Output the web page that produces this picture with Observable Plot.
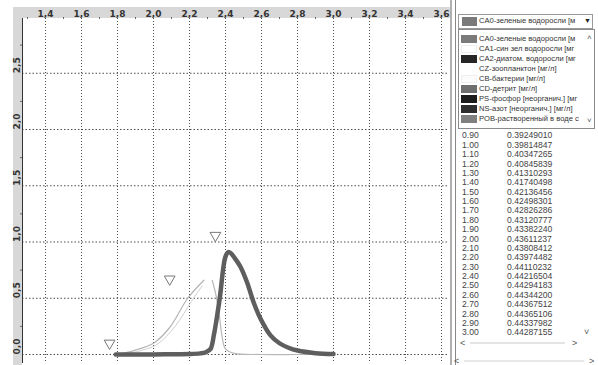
<!DOCTYPE html>
<html><head><meta charset="utf-8">
<script src="https://cdn.jsdelivr.net/npm/d3@7"></script>
<script src="https://cdn.jsdelivr.net/npm/@observablehq/plot@0.6"></script>
<style>
html,body{margin:0;padding:0;background:#fff;}
#wrap{position:relative;width:598px;height:365px;overflow:hidden;font-family:"Liberation Sans",Arial,sans-serif;}
#bandTop{position:absolute;left:13px;top:7px;width:437px;height:11px;background:#d8d8d8;}
#bandLeft{position:absolute;left:13px;top:7px;width:9px;height:358px;background:#d8d8d8;}
#chart{position:absolute;left:0;top:0;}
#panel{position:absolute;left:450px;top:0;width:148px;height:365px;background:#fff;}
#sep1{position:absolute;left:0;top:0;width:2px;height:365px;background:#b0b0b0;}
#sep2{position:absolute;left:5px;top:0;width:1px;height:365px;background:#888;}
.abs{position:absolute;}
#combo{left:8px;top:14px;width:133px;height:13px;border:1px solid #999;background:#fff;}
#list{left:8px;top:29px;width:135px;height:98px;border:1px solid #8a8a8a;background:#fff;z-index:3;overflow:hidden;}
.item{position:absolute;left:0;height:10px;line-height:10px;font-size:7.6px;color:#333;white-space:nowrap;}
.sw{position:absolute;left:2px;top:1px;width:16px;height:8px;}
.txt{position:absolute;left:20px;top:0;width:106px;overflow:visible;}
#table{left:12px;top:118px;width:125px;height:222px;overflow:hidden;z-index:1;}
.row{position:absolute;left:0;height:10px;line-height:10px;font-size:8.6px;color:#444;white-space:nowrap;}
.c2{position:absolute;left:45px;}
.arr{position:absolute;font-size:9px;color:#555;line-height:10px;}
</style>
</head><body>
<div id="wrap">
  <div id="bandTop"></div>
  <div id="bandLeft"></div>
  <div id="chart"></div>
  <div id="panel">
    <div id="sep1"></div><div id="sep2"></div>
    <div id="combo" class="abs"></div>
    <div id="list" class="abs"></div>
    <div id="table" class="abs"></div>
  </div>
</div>
<script>
// ---- axis ticks ----
const xTicks = [1.4, 1.6, 1.8, 2.0, 2.2, 2.4, 2.6, 2.8, 3.0, 3.2, 3.4, 3.6];
const xMinor = [1.3, 1.5, 1.7, 1.9, 2.1, 2.3, 2.5, 2.7, 2.9, 3.1, 3.3, 3.5];
const yTicks = [0, 0.5, 1.0, 1.5, 2.0, 2.5];
const yMinor = [0.25, 0.75, 1.25, 1.75, 2.25, 2.75];
const xDomain = [1.2722, 3.6444];
const yDomain = [-0.08, 2.9867];

// ---- thick dark curve ----
const thickX = [1.79, 1.90, 2.00, 2.10, 2.20, 2.26, 2.29, 2.317, 2.335, 2.354, 2.372, 2.387, 2.40, 2.415, 2.43, 2.45, 2.483, 2.52, 2.557, 2.594, 2.65, 2.70, 2.75, 2.80, 2.90, 3.00];
const thickY = [0, 0, 0, 0.002, 0.004, 0.01, 0.02, 0.05, 0.17, 0.35, 0.55, 0.76, 0.87, 0.91, 0.90, 0.86, 0.78, 0.64, 0.46, 0.32, 0.17, 0.10, 0.06, 0.035, 0.012, 0.004];

// ---- light curves ----
const riseAX = [1.80, 1.89, 2.00, 2.09, 2.19, 2.28];
const riseAY = [0, 0.035, 0.10, 0.24, 0.50, 0.66];
const riseBX = [1.82, 1.92, 2.02, 2.12, 2.21, 2.27];
const riseBY = [0, 0.03, 0.09, 0.25, 0.47, 0.61];
const fallX = [2.326, 2.344, 2.363, 2.38, 2.40, 2.45, 2.60, 2.80, 3.00];
const fallY = [0.66, 0.55, 0.38, 0.17, 0.05, 0.01, 0, 0, 0];

// ---- triangle markers ----
const triX = [1.756, 2.09, 2.344];
const triY = [0.10, 0.67, 1.058];

// ---- side panel ----
const listNames = ["CA0-зеленые водоросли [м", "CA1-син зел водоросли [мг", "CA2-диатом. водоросли [мг", "CZ-зоопланктон [мг/л]", "CB-бактерии [мг/л]", "CD-детрит [мг/л]", "PS-фосфор [неорганич.] [мг", "NS-азот [неорганич.] [мг/л]", "POB-растворенный в воде с"];
const listColors = ["#7a7a7a", "#ffffff", "#262626", "none", "#fbfbfb", "#6e6e6e", "#1c1c1c", "#2e2e2e", "#808080"];
const tableT = ["0.80","0.90","1.00","1.10","1.20","1.30","1.40","1.50","1.60","1.70","1.80","1.90","2.00","2.10","2.20","2.30","2.40","2.50","2.60","2.70","2.80","2.90","3.00"];
const tableV = ["0.38856330","0.39249010","0.39814847","0.40347265","0.40845839","0.41310293","0.41740498","0.42136456","0.42498301","0.42826286","0.43120777","0.43382240","0.43611237","0.43808412","0.43974482","0.44110232","0.44216504","0.44294183","0.44344200","0.44367512","0.44365106","0.44337982","0.44287155"];

const fmt = d => d.toFixed(1).replace(".", ",");
const zip = (xs, ys) => xs.map((x, i) => ({x, y: ys[i]}));

const chart = Plot.plot({
  width: 598, height: 365,
  marginLeft: 22, marginRight: 149, marginTop: 18, marginBottom: 2,
  x: {domain: xDomain, label: null},
  y: {domain: yDomain, label: null},
  style: {background: "transparent", fontFamily: "DejaVu Sans, sans-serif", overflow: "visible"},
  marks: [
    Plot.gridX(xTicks, {stroke: "#3a3a3a", strokeOpacity: 0.9, strokeDasharray: "1,2"}),
    Plot.gridY(yTicks, {stroke: "#3a3a3a", strokeOpacity: 0.9, strokeDasharray: "1.5,2"}),
    Plot.ruleX([xDomain[0]], {stroke: "#333", strokeWidth: 1}),
    Plot.axisX(xTicks, {anchor: "top", tickSize: 0, tickPadding: 2, tickFormat: fmt, label: null, fontSize: 9, fontWeight: "bold", fill: "#333"}),
    Plot.axisX(xMinor, {anchor: "top", tickSize: 2, tickFormat: () => "", label: null, stroke: "#666"}),
    Plot.axisY(yMinor, {anchor: "left", tickSize: 2, tickFormat: () => "", label: null, stroke: "#666"}),
    Plot.text(yTicks, {y: d => d, frameAnchor: "left", dx: -5, rotate: -90, text: fmt, fontSize: 9, fontWeight: "bold", fill: "#333"}),
    Plot.line(zip(riseBX, riseBY), {x: "x", y: "y", stroke: "#d0d0d0", strokeWidth: 1, curve: "catmull-rom"}),
    Plot.line(zip(riseAX, riseAY), {x: "x", y: "y", stroke: "#b4b4b4", strokeWidth: 1.2, curve: "catmull-rom"}),
    Plot.line(zip(fallX, fallY), {x: "x", y: "y", stroke: "#b8b8b8", strokeWidth: 1.2, curve: "catmull-rom"}),
    Plot.line(zip(thickX, thickY), {x: "x", y: "y", stroke: "#5e5e5e", strokeWidth: 4.5, curve: "catmull-rom", strokeLinecap: "round"}),
    Plot.dot(zip(triX, triY), {x: "x", y: "y", symbol: "triangle", rotate: 180, r: 4, stroke: "#777", strokeWidth: 1, fill: "white"})
  ]
});
document.getElementById("chart").appendChild(chart);

// combo box
const combo = document.getElementById("combo");
combo.innerHTML = `<div class="sw" style="left:3px;top:2px;width:15px;height:9px;background:${listColors[0]}"></div>
<div class="item" style="left:20px;top:1px;">${listNames[0]}</div>
<div class="arr" style="left:125px;top:1px;font-size:7px;color:#222">▼</div>`;

// list box
const list = document.getElementById("list");
listNames.forEach((name, i) => {
  const c = listColors[i];
  const sw = c === "none" ? "" : `<div class="sw" style="background:${c};${c === '#ffffff' || c === '#fbfbfb' ? 'border:1px solid #eee;width:14px;height:6px;' : ''}"></div>`;
  const d = document.createElement("div");
  d.className = "item";
  d.style.top = (4 + i * 10) + "px";
  d.style.width = "126px";
  d.innerHTML = sw + `<div class="txt">${name}</div>`;
  list.appendChild(d);
});
list.insertAdjacentHTML("beforeend", `<div class="arr" style="left:128px;top:3px;font-size:8px;">˄</div><div class="arr" style="left:128px;top:86px;font-size:8px;">˅</div>`);

// table
const table = document.getElementById("table");
tableT.forEach((t, i) => {
  const d = document.createElement("div");
  d.className = "row";
  d.style.top = (3 + i * 9.38) + "px";
  d.innerHTML = `${t}<span class="c2">${tableV[i]}</span>`;
  table.appendChild(d);
});

// scrollbars
const panel = document.getElementById("panel");
panel.insertAdjacentHTML("beforeend", `
<div class="arr" style="left:134px;top:327px;">˅</div>
<div class="arr" style="left:10px;top:338px;">&lt;</div>
<div class="abs" style="left:20px;top:342px;width:95px;height:2px;background:#e4e4e4;"></div>
<div class="arr" style="left:122px;top:338px;">&gt;</div>
<div class="arr" style="left:4px;top:356px;">&lt;</div>
<div class="abs" style="left:14px;top:360px;width:120px;height:2px;background:#e8e8e8;"></div>
<div class="arr" style="left:139px;top:356px;">&gt;</div>
`);
</script>
</body></html>
